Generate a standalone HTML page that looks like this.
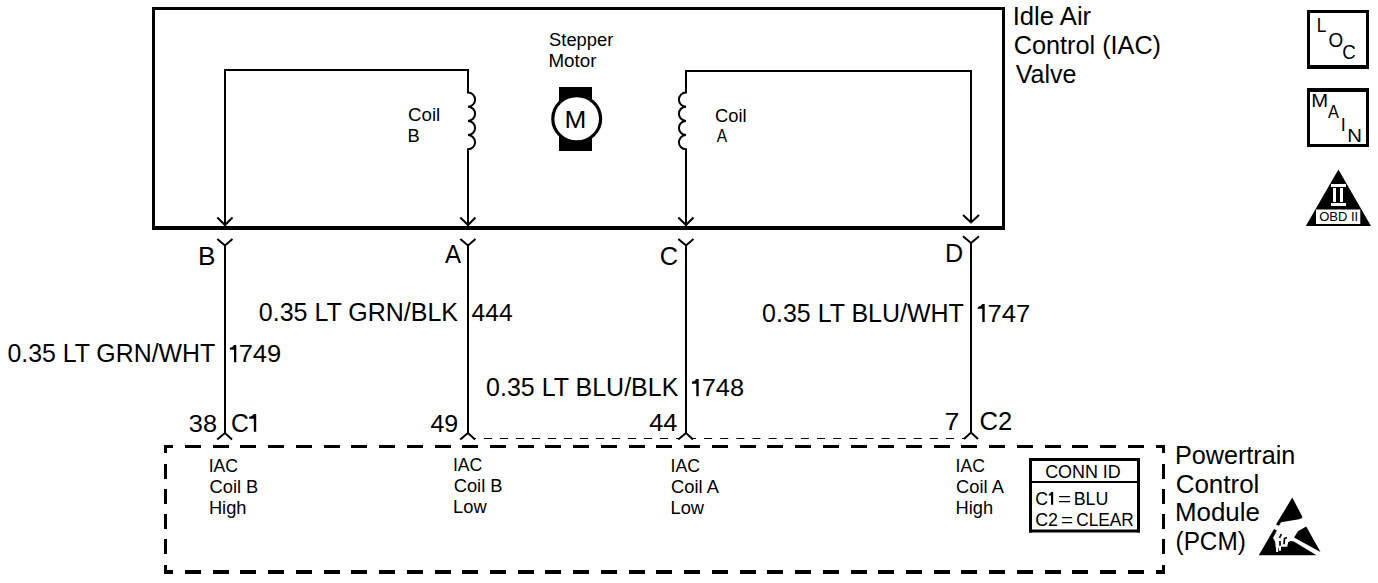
<!DOCTYPE html>
<html><head><meta charset="utf-8"><style>
html,body{margin:0;padding:0;background:#fff;}
svg{display:block;}
text{font-family:"Liberation Sans",sans-serif;fill:#000;}
</style></head><body>
<svg width="1378" height="583" viewBox="0 0 1378 583">
<g fill="#000">
<rect x="152" y="7" width="853" height="3"/>
<rect x="152" y="226" width="853" height="4"/>
<rect x="152" y="7" width="3" height="223"/>
<rect x="1002" y="7" width="3" height="223"/>
</g>
<g fill="none" stroke="#000" stroke-width="2">
<path d="M225,226 V70 H468 V92.5  a7.1,7.1 0 0 1 0,14.2 a7.1,7.1 0 0 1 0,14.2 a7.1,7.1 0 0 1 0,14.2 a7.1,7.1 0 0 1 0,14.2 V226"/>
<path d="M971,223 V71 H686 V92.5  a7.1,7.1 0 0 0 0,14.2 a7.1,7.1 0 0 0 0,14.2 a7.1,7.1 0 0 0 0,14.2 a7.1,7.1 0 0 0 0,14.2 V226"/>
<path d="M217.3,217.5 L225,225 L232.5,217.5"/>
<path d="M460.3,217.5 L468,225 L475.5,217.5"/>
<path d="M678.3,217.5 L686,225 L693.5,217.5"/>
<path d="M963,215 L971,222.5 L979,215"/>
<path d="M217.3,239 L225,245.5 L232.5,239 M225,245.5 V433 M217.2,439.5 L225,433 L232,439.5"/>
<path d="M460.3,239 L468,245.5 L475.5,239 M468,245.5 V433 M460.2,439.5 L468,433 L475,439.5"/>
<path d="M678.3,239 L686,245.5 L693.5,239 M686,245.5 V433 M678.2,439.5 L686,433 L693,439.5"/>
<path d="M963,236.3 L971,243 L979,236.3 M971,243 V432.5 M964,439 L971,432.5 L978,439"/>
</g>
<path d="M475,438.5 H679.5" stroke="#000" stroke-width="1" stroke-dasharray="8 8" stroke-dashoffset="7" fill="none"/>
<path d="M692,438.5 H964" stroke="#000" stroke-width="1" stroke-dasharray="8 8.125" stroke-dashoffset="4" fill="none"/>
<g fill="#000">
<rect x="164" y="445" width="9" height="3"/><rect x="164" y="445" width="3" height="8"/>
<rect x="1156" y="445" width="9" height="3"/><rect x="1162" y="445" width="3" height="8"/>
<rect x="164" y="570" width="9" height="4"/><rect x="164" y="565" width="3" height="9"/>
<rect x="1156" y="570" width="9" height="4"/><rect x="1162" y="565" width="3" height="9"/>
<rect x="185" y="445" width="16" height="3"/><rect x="185" y="570" width="16" height="4"/>
<rect x="213" y="445" width="16" height="3"/><rect x="213" y="570" width="16" height="4"/>
<rect x="240" y="445" width="16" height="3"/><rect x="240" y="570" width="16" height="4"/>
<rect x="268" y="445" width="16" height="3"/><rect x="268" y="570" width="16" height="4"/>
<rect x="296" y="445" width="16" height="3"/><rect x="296" y="570" width="16" height="4"/>
<rect x="324" y="445" width="16" height="3"/><rect x="324" y="570" width="16" height="4"/>
<rect x="351" y="445" width="16" height="3"/><rect x="351" y="570" width="16" height="4"/>
<rect x="379" y="445" width="16" height="3"/><rect x="379" y="570" width="16" height="4"/>
<rect x="407" y="445" width="16" height="3"/><rect x="407" y="570" width="16" height="4"/>
<rect x="435" y="445" width="16" height="3"/><rect x="435" y="570" width="16" height="4"/>
<rect x="462" y="445" width="16" height="3"/><rect x="462" y="570" width="16" height="4"/>
<rect x="490" y="445" width="16" height="3"/><rect x="490" y="570" width="16" height="4"/>
<rect x="518" y="445" width="16" height="3"/><rect x="518" y="570" width="16" height="4"/>
<rect x="545" y="445" width="16" height="3"/><rect x="545" y="570" width="16" height="4"/>
<rect x="573" y="445" width="16" height="3"/><rect x="573" y="570" width="16" height="4"/>
<rect x="601" y="445" width="16" height="3"/><rect x="601" y="570" width="16" height="4"/>
<rect x="629" y="445" width="16" height="3"/><rect x="629" y="570" width="16" height="4"/>
<rect x="656" y="445" width="16" height="3"/><rect x="656" y="570" width="16" height="4"/>
<rect x="684" y="445" width="16" height="3"/><rect x="684" y="570" width="16" height="4"/>
<rect x="712" y="445" width="16" height="3"/><rect x="712" y="570" width="16" height="4"/>
<rect x="740" y="445" width="16" height="3"/><rect x="740" y="570" width="16" height="4"/>
<rect x="767" y="445" width="16" height="3"/><rect x="767" y="570" width="16" height="4"/>
<rect x="795" y="445" width="16" height="3"/><rect x="795" y="570" width="16" height="4"/>
<rect x="823" y="445" width="16" height="3"/><rect x="823" y="570" width="16" height="4"/>
<rect x="851" y="445" width="16" height="3"/><rect x="851" y="570" width="16" height="4"/>
<rect x="878" y="445" width="16" height="3"/><rect x="878" y="570" width="16" height="4"/>
<rect x="906" y="445" width="16" height="3"/><rect x="906" y="570" width="16" height="4"/>
<rect x="934" y="445" width="16" height="3"/><rect x="934" y="570" width="16" height="4"/>
<rect x="961" y="445" width="16" height="3"/><rect x="961" y="570" width="16" height="4"/>
<rect x="989" y="445" width="16" height="3"/><rect x="989" y="570" width="16" height="4"/>
<rect x="1017" y="445" width="16" height="3"/><rect x="1017" y="570" width="16" height="4"/>
<rect x="1045" y="445" width="16" height="3"/><rect x="1045" y="570" width="16" height="4"/>
<rect x="1072" y="445" width="16" height="3"/><rect x="1072" y="570" width="16" height="4"/>
<rect x="1100" y="445" width="16" height="3"/><rect x="1100" y="570" width="16" height="4"/>
<rect x="1128" y="445" width="16" height="3"/><rect x="1128" y="570" width="16" height="4"/>
<rect x="164" y="464" width="3" height="15"/><rect x="1162" y="464" width="3" height="15"/>
<rect x="164" y="489" width="3" height="15"/><rect x="1162" y="489" width="3" height="15"/>
<rect x="164" y="514" width="3" height="15"/><rect x="1162" y="514" width="3" height="15"/>
<rect x="164" y="539" width="3" height="15"/><rect x="1162" y="539" width="3" height="15"/>
</g>
<g fill="#000"><rect x="1029" y="458" width="111" height="3"/><rect x="1029" y="529.5" width="111" height="3"/>
<rect x="1029" y="458" width="3" height="74.5"/><rect x="1137" y="458" width="3" height="74.5"/>
<rect x="1029" y="481" width="111" height="2"/></g>
<rect x="559" y="87" width="33" height="64" fill="#000"/>
<ellipse cx="576.7" cy="118.75" rx="23.9" ry="23.2" fill="#fff" stroke="#000" stroke-width="3.2"/>
<g fill="#000"><rect x="1307" y="10" width="62" height="3"/><rect x="1307" y="65" width="62" height="4"/>
<rect x="1307" y="10" width="3" height="59"/><rect x="1366" y="10" width="3" height="59"/></g>
<g fill="#000"><rect x="1307" y="88" width="62" height="4"/><rect x="1307" y="144" width="62" height="3"/>
<rect x="1307" y="88" width="3" height="59"/><rect x="1366" y="88" width="3" height="59"/></g>
<polygon points="1338.4,169.5 1305.8,226 1371,226" fill="#000"/>
<g fill="#fff"><rect x="1331" y="184" width="15" height="3"/><rect x="1331" y="203" width="15" height="3"/>
<rect x="1333" y="188" width="3" height="14"/><rect x="1340" y="188" width="3" height="14"/>
<rect x="1316" y="209.5" width="44.3" height="14.5"/></g>
<g fill="#000">
<path d="M1292.3,497.5 L1302.5,517 Q1302,519 1299,519.3 L1281,522.3 L1279,525.8 L1276,524.6 Z"/>
<path d="M1306.2,526.5 L1320.5,552 L1294,537.5 L1298,531.3 Z"/>
<path d="M1274,529 L1258.8,555.2 L1316.5,555.2 L1293.8,541.5 L1291,540.9 L1288.3,542 L1287.2,546.7 L1281,546.7 L1281,550.8 L1279,550.8 L1278.8,548 L1278.2,548 L1278.2,552 L1276.2,552 L1276,548 L1275.7,546.9 L1275.1,541.5 L1273,537.9 L1276.9,530.5 Z"/>
<path d="M1279.5,537.9 L1281.4,534 M1280,540.9 V545.8 M1284,544.2 L1284.5,538.5 L1287,537.5" fill="none" stroke="#000" stroke-width="1.7"/>
</g>
<g>
<text x="549.12" y="46.00" font-size="18.3" textLength="64.16" lengthAdjust="spacingAndGlyphs">Stepper</text>
<text x="548.46" y="67.00" font-size="18.3" textLength="47.98" lengthAdjust="spacingAndGlyphs">Motor</text>
<text x="564.56" y="128.00" font-size="24.5" textLength="21.82" lengthAdjust="spacingAndGlyphs">M</text>
<text x="408.11" y="121.40" font-size="18.3" textLength="32.17" lengthAdjust="spacingAndGlyphs">Coil</text>
<text x="407.50" y="141.80" font-size="18.3">B</text>
<text x="715.12" y="121.70" font-size="18.3">Coil</text>
<text x="716.70" y="142.00" font-size="18.3" textLength="10.37" lengthAdjust="spacingAndGlyphs">A</text>
<text x="1012.69" y="24.70" font-size="25" textLength="78.46" lengthAdjust="spacingAndGlyphs">Idle Air</text>
<text x="1013.74" y="54.00" font-size="25" textLength="147.30" lengthAdjust="spacingAndGlyphs">Control (IAC)</text>
<text x="1015.67" y="82.60" font-size="25" textLength="60.69" lengthAdjust="spacingAndGlyphs">Valve</text>
<text x="197.91" y="264.50" font-size="25" textLength="17.47" lengthAdjust="spacingAndGlyphs">B</text>
<text x="444.88" y="263.00" font-size="25" textLength="16.08" lengthAdjust="spacingAndGlyphs">A</text>
<text x="659.73" y="264.50" font-size="25" textLength="18.35" lengthAdjust="spacingAndGlyphs">C</text>
<text x="944.98" y="261.80" font-size="25" textLength="18.21" lengthAdjust="spacingAndGlyphs">D</text>
<text x="7.41" y="362.30" font-size="25" textLength="207.79" lengthAdjust="spacingAndGlyphs">0.35 LT GRN/WHT</text>
<text x="238.67" y="362.30" font-size="24" textLength="42.57" lengthAdjust="spacingAndGlyphs">749</text>
<text x="258.80" y="321.20" font-size="25" textLength="199.20" lengthAdjust="spacingAndGlyphs">0.35 LT GRN/BLK</text>
<text x="471.49" y="321.00" font-size="24" textLength="41.10" lengthAdjust="spacingAndGlyphs">444</text>
<text x="486.10" y="396.30" font-size="25" textLength="192.28" lengthAdjust="spacingAndGlyphs">0.35 LT BLU/BLK</text>
<text x="701.68" y="396.30" font-size="24" textLength="42.33" lengthAdjust="spacingAndGlyphs">748</text>
<text x="762.10" y="322.00" font-size="25" textLength="201.75" lengthAdjust="spacingAndGlyphs">0.35 LT BLU/WHT</text>
<text x="987.56" y="322.00" font-size="24" textLength="42.79" lengthAdjust="spacingAndGlyphs">747</text>
<text x="188.88" y="431.60" font-size="24" textLength="28.16" lengthAdjust="spacingAndGlyphs">38</text>
<text x="231.07" y="431.60" font-size="25" textLength="17.78" lengthAdjust="spacingAndGlyphs">C</text>
<text x="430.48" y="431.80" font-size="24" textLength="27.77" lengthAdjust="spacingAndGlyphs">49</text>
<text x="649.27" y="430.50" font-size="24" textLength="28.17" lengthAdjust="spacingAndGlyphs">44</text>
<text x="944.51" y="430.00" font-size="24" textLength="14.86" lengthAdjust="spacingAndGlyphs">7</text>
<text x="979.62" y="430.00" font-size="25" textLength="32.73" lengthAdjust="spacingAndGlyphs">C2</text>
<text x="208.71" y="471.60" font-size="18.3" textLength="29.40" lengthAdjust="spacingAndGlyphs">IAC</text>
<text x="209.53" y="492.60" font-size="18.3">Coil B</text>
<text x="208.90" y="513.60" font-size="18.3">High</text>
<text x="452.91" y="471.30" font-size="18.3" textLength="29.40" lengthAdjust="spacingAndGlyphs">IAC</text>
<text x="453.73" y="492.00" font-size="18.3">Coil B</text>
<text x="453.10" y="513.00" font-size="18.3">Low</text>
<text x="670.61" y="471.60" font-size="18.3" textLength="29.40" lengthAdjust="spacingAndGlyphs">IAC</text>
<text x="671.12" y="492.60" font-size="18.3">Coil A</text>
<text x="670.50" y="513.60" font-size="18.3">Low</text>
<text x="955.61" y="471.60" font-size="18.3" textLength="29.40" lengthAdjust="spacingAndGlyphs">IAC</text>
<text x="956.12" y="492.60" font-size="18.3">Coil A</text>
<text x="955.50" y="513.60" font-size="18.3">High</text>
<text x="1045.14" y="477.80" font-size="18.3" textLength="75.65" lengthAdjust="spacingAndGlyphs">CONN ID</text>
<text x="1035.16" y="504.60" font-size="18.3" textLength="12.72" lengthAdjust="spacingAndGlyphs">C</text>
<text x="1058.04" y="504.60" font-size="18.3" textLength="13.01" lengthAdjust="spacingAndGlyphs">=</text>
<text x="1073.63" y="504.60" font-size="18.3" textLength="34.79" lengthAdjust="spacingAndGlyphs">BLU</text>
<text x="1035.15" y="525.60" font-size="18.3" textLength="22.81" lengthAdjust="spacingAndGlyphs">C2</text>
<text x="1060.91" y="525.60" font-size="18.3" textLength="12.04" lengthAdjust="spacingAndGlyphs">=</text>
<text x="1076.27" y="525.60" font-size="18.3" textLength="57.52" lengthAdjust="spacingAndGlyphs">CLEAR</text>
<text x="1174.88" y="464.00" font-size="25" textLength="120.45" lengthAdjust="spacingAndGlyphs">Powertrain</text>
<text x="1175.70" y="492.60" font-size="25" textLength="83.68" lengthAdjust="spacingAndGlyphs">Control</text>
<text x="1174.93" y="521.30" font-size="25" textLength="84.94" lengthAdjust="spacingAndGlyphs">Module</text>
<text x="1175.54" y="549.60" font-size="25" textLength="70.31" lengthAdjust="spacingAndGlyphs">(PCM)</text>
<text x="1316.63" y="32.00" font-size="20.5" textLength="9.63" lengthAdjust="spacingAndGlyphs">L</text>
<text x="1328.38" y="46.60" font-size="20.5" textLength="14.70" lengthAdjust="spacingAndGlyphs">O</text>
<text x="1342.18" y="58.60" font-size="20.5" textLength="13.56" lengthAdjust="spacingAndGlyphs">C</text>
<text x="1311.21" y="106.80" font-size="18" textLength="16.88" lengthAdjust="spacingAndGlyphs">M</text>
<text x="1328.00" y="117.60" font-size="18" textLength="10.91" lengthAdjust="spacingAndGlyphs">A</text>
<text x="1340.67" y="130.80" font-size="18">I</text>
<text x="1347.21" y="141.50" font-size="18" textLength="14.69" lengthAdjust="spacingAndGlyphs">N</text>
<text x="1319.15" y="221.30" font-size="12.5" textLength="39.04" lengthAdjust="spacingAndGlyphs">OBD II</text>
</g>
<g fill="#000">
<path d="M234,345 H236.3 V362.3 H234 V349.67 H229.9 V347.77 Q232.75,347.42 234,345 Z"/>
<path d="M696.3,379 H698.7 V396.3 H696.3 V383.67 H691.9 V381.77 Q694.90,381.42 696.3,379 Z"/>
<path d="M982.3,304 H984.7 V322 H982.3 V308.86 H977.8 V306.88 Q980.85,306.52 982.3,304 Z"/>
<path d="M253.8,413.9 H256.2 V431.7 H253.8 V418.71 H249.2 V416.75 Q252.30,416.39 253.8,413.9 Z"/>
<path d="M1051,492 H1053.2 V504.7 H1051 V495.43 H1048.8 V494.03 Q1050.70,493.78 1051,492 Z"/>
</g>
</svg>
</body></html>
